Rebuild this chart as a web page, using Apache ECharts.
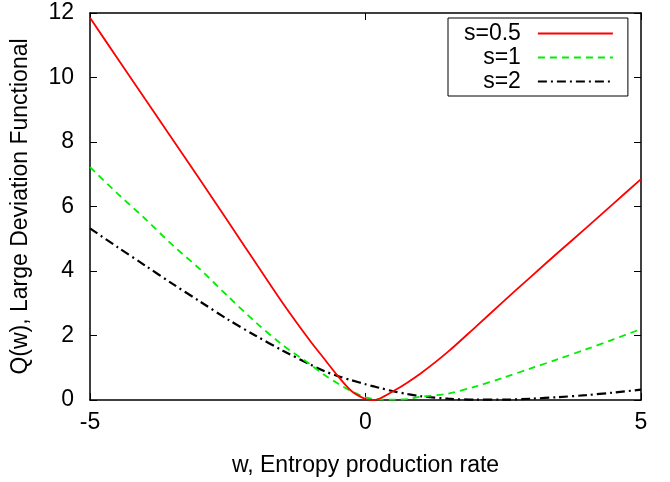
<!DOCTYPE html>
<html>
<head>
<meta charset="utf-8">
<script src="https://cdn.jsdelivr.net/npm/echarts@6/dist/echarts.min.js"></script>
<style>html,body{margin:0;padding:0;background:#fff;}#c{width:670px;height:482px;}</style>
</head>
<body>
<div id="c"></div>
<script>
const wValues = [-5, -4.5, -4, -3.5, -3, -2.5, -2, -1.5, -1, -0.75, -0.5, -0.25, 0, 0.125, 0.25, 0.5, 0.75, 1, 1.5, 2, 2.5, 3, 3.5, 4, 4.5, 5];
const seriesNames = ['s=0.5', 's=1', 's=2'];
const qS05 = [11.85, 10.59, 9.33, 8.08, 6.82, 5.55, 4.27, 3.0, 1.82, 1.28, 0.74, 0.27, 0.03, 0.0, 0.04, 0.27, 0.53, 0.82, 1.5, 2.27, 3.05, 3.82, 4.58, 5.33, 6.09, 6.85];
const qS1  = [7.22, 6.4, 5.62, 4.8, 4.05, 3.22, 2.42, 1.7, 1.1, 0.78, 0.51, 0.27, 0.08, 0.04, 0.02, 0.01, 0.03, 0.1, 0.2, 0.42, 0.69, 0.98, 1.27, 1.57, 1.88, 2.2];
const qS2  = [5.32, 4.74, 4.17, 3.6, 3.05, 2.5, 2.0, 1.53, 1.1, 0.9, 0.74, 0.61, 0.49, 0.43, 0.38, 0.27, 0.19, 0.12, 0.04, 0.01, 0.01, 0.04, 0.09, 0.15, 0.23, 0.32];
const xTicks = [-5, 0, 5];
const yTicks = [0, 2, 4, 6, 8, 10, 12];

const FONT = 'Liberation Sans, Arial, Helvetica, sans-serif';
const pairs = (ys) => wValues.map((w, i) => [w, ys[i]]);

const chart = echarts.init(document.getElementById('c'), null, {renderer: 'canvas'});
const axisLine = {show: true, onZero: false, lineStyle: {color: '#000', width: 1.5}};
const tick = {show: true, inside: true, length: 7, lineStyle: {color: '#000', width: 1}};
const option = {
  backgroundColor: '#fff',
  animation: false,
  grid: {left: 90, right: 29, top: 13, bottom: 80, containLabel: false},
  xAxis: [
    {type: 'value', min: xTicks[0], max: xTicks[xTicks.length - 1], interval: 5, position: 'bottom',
     axisLine: axisLine, axisTick: tick, splitLine: {show: false},
     axisLabel: {color: '#000', fontSize: 23, fontFamily: FONT, margin: 11},
     name: 'w, Entropy production rate', nameLocation: 'middle', nameGap: 54,
     nameTextStyle: {color: '#000', fontSize: 23, fontFamily: FONT}},
    {type: 'value', min: xTicks[0], max: xTicks[xTicks.length - 1], interval: 5, position: 'top',
     axisLine: axisLine, axisTick: tick, splitLine: {show: false}, axisLabel: {show: false}}
  ],
  yAxis: [
    {type: 'value', min: yTicks[0], max: yTicks[yTicks.length - 1], interval: 2, position: 'left',
     axisLine: axisLine, axisTick: tick, splitLine: {show: false},
     axisLabel: {color: '#000', fontSize: 23, fontFamily: FONT, margin: 16},
     name: 'Q(w), Large Deviation Functional', nameLocation: 'middle', nameGap: 58,
     nameTextStyle: {color: '#000', fontSize: 23, fontFamily: FONT}},
    {type: 'value', min: yTicks[0], max: yTicks[yTicks.length - 1], interval: 2, position: 'right',
     axisLine: axisLine, axisTick: tick, splitLine: {show: false}, axisLabel: {show: false}}
  ],
  legend: {
    show: true, orient: 'vertical', left: 448, top: 18, align: 'right',
    padding: [4, 14, 3, 16], itemGap: 1, itemWidth: 75, itemHeight: 14,
    borderColor: '#000', borderWidth: 1, borderRadius: 0, backgroundColor: '#fff',
    itemStyle: {opacity: 0},
    textStyle: {color: '#000', fontSize: 23, fontFamily: FONT, padding: [0, 12, 0, 0], lineHeight: 22},
    data: seriesNames
  },
  series: [
    {name: seriesNames[0], type: 'line', data: pairs(qS05), showSymbol: false, symbol: 'none', smooth: 0.3,
     lineStyle: {color: '#ff0000', width: 1.8, type: 'solid'}, itemStyle: {color: '#ff0000'}, z: 3},
    {name: seriesNames[1], type: 'line', data: pairs(qS1), showSymbol: false, symbol: 'none', smooth: 0.3,
     lineStyle: {color: '#00ee00', width: 1.8, type: [7, 5]}, itemStyle: {color: '#00ee00'}, z: 2},
    {name: seriesNames[2], type: 'line', data: pairs(qS2), showSymbol: false, symbol: 'none', smooth: 0.3,
     lineStyle: {color: '#000', width: 2.2, type: [9, 4, 2, 4]}, itemStyle: {color: '#000'}, z: 1}
  ]
};
chart.setOption(option);
</script>
</body>
</html>
